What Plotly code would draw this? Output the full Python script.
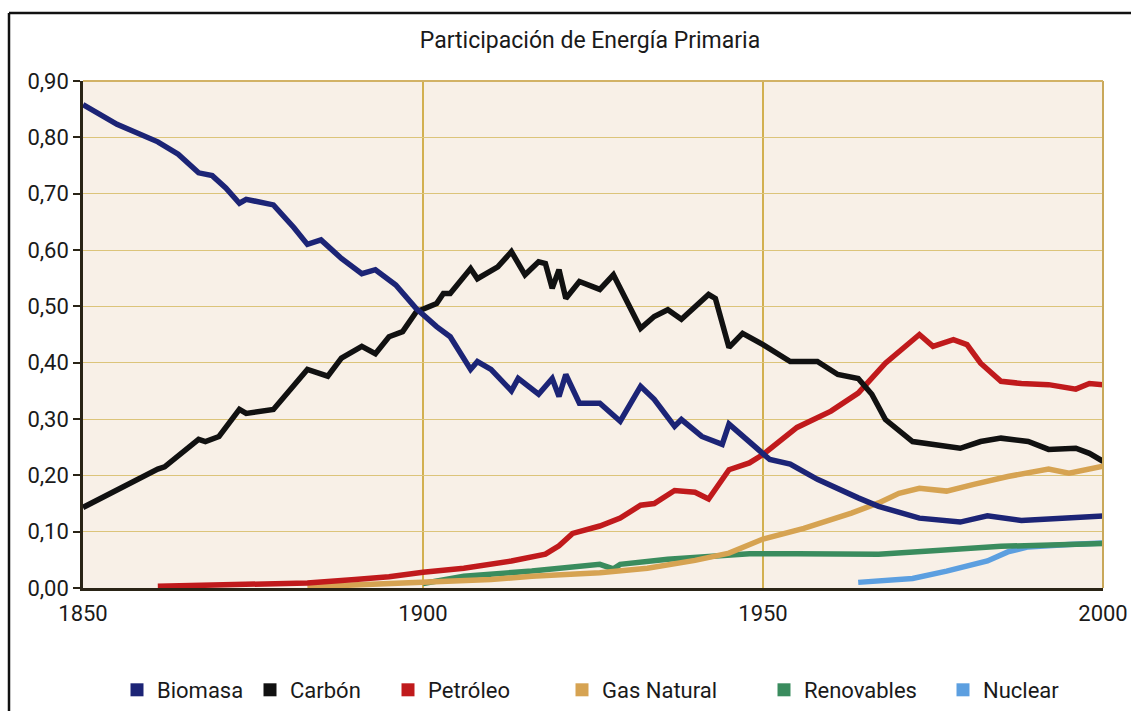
import plotly.graph_objects as go

# ---- data ----
bio_years = [1850,1855,1861,1864,1867,1869,1871,1873,1874,1878,1881,1883,1885,1888,1891,1893,1896,1899,1902,1904,1907,1908,1910,1913,1914,1917,1919,1920,1921,1923,1926,1929,1932,1934,1937,1938,1941,1944,1945,1947,1949,1951,1954,1958,1964,1967,1973,1979,1983,1988,1994,2000]
bio_vals = [0.858,0.823,0.792,0.770,0.737,0.732,0.710,0.683,0.690,0.680,0.640,0.610,0.618,0.585,0.558,0.565,0.538,0.496,0.464,0.446,0.388,0.402,0.388,0.350,0.372,0.344,0.372,0.340,0.379,0.328,0.328,0.296,0.358,0.335,0.287,0.299,0.269,0.255,0.291,0.269,0.248,0.228,0.220,0.193,0.160,0.145,0.124,0.117,0.128,0.120,0.124,0.128]

coal_years = [1850,1856,1861,1862,1867,1868,1870,1873,1874,1878,1883,1886,1888,1891,1893,1895,1897,1899,1901,1902,1903,1904,1907,1908,1911,1913,1915,1917,1918,1919,1920,1921,1923,1926,1928,1932,1934,1936,1938,1942,1943,1945,1947,1950,1954,1958,1961,1964,1966,1968,1972,1975,1979,1982,1985,1989,1992,1996,1998,2000]
coal_vals = [0.143,0.181,0.211,0.215,0.264,0.260,0.269,0.317,0.310,0.317,0.388,0.376,0.408,0.429,0.416,0.446,0.455,0.490,0.500,0.505,0.523,0.523,0.567,0.549,0.570,0.597,0.556,0.579,0.576,0.532,0.565,0.514,0.544,0.530,0.556,0.461,0.482,0.494,0.477,0.521,0.514,0.427,0.452,0.432,0.402,0.402,0.379,0.372,0.344,0.299,0.260,0.255,0.248,0.260,0.266,0.260,0.246,0.248,0.239,0.225]

oil_years = [1861,1870,1883,1890,1895,1900,1906,1913,1918,1920,1922,1926,1929,1932,1934,1937,1940,1942,1945,1948,1950,1955,1960,1964,1968,1973,1975,1978,1980,1982,1985,1988,1992,1996,1998,2000]
oil_vals = [0.003,0.005,0.009,0.015,0.020,0.028,0.035,0.048,0.060,0.075,0.097,0.110,0.124,0.147,0.150,0.173,0.170,0.158,0.210,0.222,0.237,0.285,0.314,0.346,0.399,0.450,0.429,0.441,0.432,0.399,0.367,0.363,0.361,0.353,0.363,0.361]

gas_years = [1883,1890,1900,1910,1916,1926,1933,1940,1945,1948,1950,1956,1963,1967,1970,1973,1977,1981,1986,1992,1995,2000]
gas_vals = [0.002,0.005,0.009,0.015,0.021,0.027,0.035,0.049,0.062,0.078,0.087,0.106,0.133,0.151,0.168,0.177,0.172,0.184,0.198,0.211,0.204,0.216]

ren_years = [1900,1906,1916,1926,1928,1929,1936,1943,1948,1955,1967,1975,1985,2000]
ren_vals = [0.008,0.021,0.030,0.042,0.034,0.042,0.051,0.058,0.061,0.061,0.060,0.066,0.074,0.079]

nuc_years = [1964,1972,1977,1983,1986,1989,1995,2000]
nuc_vals = [0.010,0.017,0.030,0.048,0.064,0.073,0.077,0.080]

series_names = ["Biomasa", "Carbón", "Petróleo", "Gas Natural", "Renovables", "Nuclear"]
series_colors = ["#1c2476", "#111111", "#c01a1c", "#d6a352", "#3a8c5e", "#5c9fe0"]
series_x = [bio_years, coal_years, oil_years, gas_years, ren_years, nuc_years]
series_y = [bio_vals, coal_vals, oil_vals, gas_vals, ren_vals, nuc_vals]

x_ticks = [1850, 1900, 1950, 2000]
y_ticks = [0.0, 0.1, 0.2, 0.3, 0.4, 0.5, 0.6, 0.7, 0.8, 0.9]

FONT = "Roboto, DejaVu Sans, sans-serif"

W, H = 1131, 711
# plot area in pixels
L, R, T, B = 83, 1103, 81, 588

def px_to_paper_x(px):
    return (px - L) / (R - L)

def px_to_paper_y(py):
    return (B - py) / (B - T)

fig = go.Figure()

order = [5, 4, 3, 2, 1, 0]
for i in order:
    fig.add_trace(go.Scatter(
        x=series_x[i], y=series_y[i], mode="lines", name=series_names[i],
        line=dict(color=series_colors[i], width=5.5), showlegend=False,
        hoverinfo="x+y+name"))

legend_left_px = [117, 250, 388, 562, 764, 943]
legend_layouts = {}
for i in range(6):
    lname = "legend" if i == 0 else f"legend{i+1}"
    fig.add_trace(go.Scatter(
        x=[None], y=[None], mode="markers", name=series_names[i],
        marker=dict(symbol="square", size=13, color=series_colors[i]),
        showlegend=True, legend=lname))
    legend_layouts[lname] = dict(
        x=px_to_paper_x(legend_left_px[i]), xanchor="left",
        y=px_to_paper_y(690), yanchor="middle",
        font=dict(family=FONT, size=22, color="#1a1a1a"),
        bgcolor="rgba(0,0,0,0)", borderwidth=0)

fig.update_layout(
    width=W, height=H,
    margin=dict(l=L, r=W - R, t=T, b=H - B, autoexpand=False),
    paper_bgcolor="white",
    plot_bgcolor="#f8f0e7",
    separators=",.",
    title=dict(text="Participación de Energía Primaria", x=590 / W, xanchor="center",
               y=1 - 40 / H, yanchor="middle",
               font=dict(family=FONT, size=23, color="#1a1a1a")),
    font=dict(family=FONT, size=22, color="#1a1a1a"),
    showlegend=True,
    xaxis=dict(range=[1850, 2000], tickvals=x_ticks, ticktext=[str(v) for v in x_ticks],
               showgrid=True, gridcolor="#d2b050", gridwidth=2,
               showline=True, linecolor="#2a2416", linewidth=2.5,
               ticks="", zeroline=False, fixedrange=True, automargin=False,
               ticklabelstandoff=4,
               tickfont=dict(family=FONT, size=22, color="#1a1a1a")),
    yaxis=dict(range=[0, 0.9], tickvals=y_ticks, tickformat=".2f",
               showgrid=True, gridcolor="#dcc47a", gridwidth=1.4,
               showline=True, linecolor="#2a2416", linewidth=2.5,
               ticks="outside", ticklen=7, tickcolor="#2a2416", tickwidth=2,
               zeroline=False, fixedrange=True, automargin=False,
               tickfont=dict(family=FONT, size=22, color="#1a1a1a")),
    **legend_layouts,
)

fig.add_shape(type="line", xref="paper", yref="paper", x0=1, x1=1, y0=0, y1=1,
              line=dict(color="#c9a85a", width=2))
fig.add_shape(type="line", xref="paper", yref="paper", x0=0, x1=1, y0=1, y1=1,
              line=dict(color="#d2b266", width=2))
fig.add_shape(type="line", xref="paper", yref="paper",
              x0=px_to_paper_x(9), x1=px_to_paper_x(9), y0=px_to_paper_y(720), y1=px_to_paper_y(13),
              line=dict(color="#111111", width=2.5))
fig.add_shape(type="line", xref="paper", yref="paper",
              x0=px_to_paper_x(9), x1=px_to_paper_x(1140), y0=px_to_paper_y(13), y1=px_to_paper_y(13),
              line=dict(color="#111111", width=2.5))

fig.write_html("out.html", config={"displayModeBar": False},
               post_script="document.body.style.margin='0';document.body.style.overflow='hidden';")
